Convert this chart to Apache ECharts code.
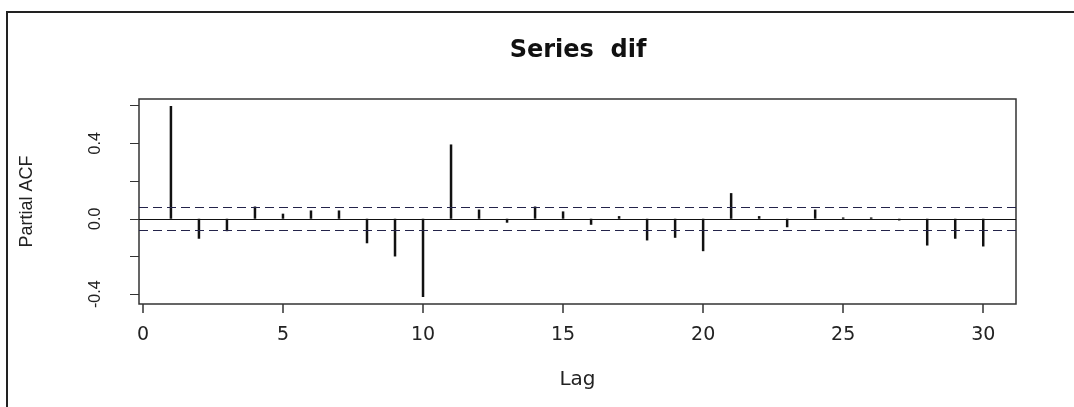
<!DOCTYPE html>
<html>
<head>
<meta charset="utf-8">
<script src="https://cdn.jsdelivr.net/npm/echarts@6/dist/echarts.min.js"></script>
<style>
html,body{margin:0;padding:0;background:#fff;}
#chart{width:1074px;height:407px;}
</style>
</head>
<body>
<div id="chart"></div>
<script>
// ---- data ----
const titleText = 'Series  dif';
const xName = 'Lag';
const yName = 'Partial ACF';
const lags = [1,2,3,4,5,6,7,8,9,10,11,12,13,14,15,16,17,18,19,20,21,22,23,24,25,26,27,28,29,30];
const pacfValues = [0.598,-0.106,-0.066,0.065,0.027,0.044,0.044,-0.130,-0.200,-0.415,
                    0.394,0.049,-0.021,0.065,0.039,-0.032,0.014,-0.115,-0.101,-0.172,
                    0.136,0.014,-0.045,0.049,0.007,0.007,-0.009,-0.142,-0.106,-0.147];
const ciBound = 0.0585;
const xTicks = [0,5,10,15,20,25,30];
const yTicks = [-0.4,-0.2,0,0.2,0.4,0.6];
const yLabels = [-0.4,0,0.4];

const chart = echarts.init(document.getElementById('chart'));
const barData = lags.map((l,i)=>[l,pacfValues[i]]);

chart.setOption({
  animation:false,
  backgroundColor:'#fff',
  title:{
    text:titleText,
    left:578, top:39, padding:0, textAlign:'center',
    textStyle:{fontFamily:'DejaVu Sans',fontWeight:'bold',fontSize:24,color:'#111'}
  },
  grid:{left:139,right:58,top:99,bottom:103,show:true,borderColor:'#333',borderWidth:1.5,containLabel:false},
  xAxis:{
    type:'value', min:-0.14, max:31.17,
    name:xName, nameLocation:'middle', nameGap:66,
    nameTextStyle:{fontFamily:'DejaVu Sans',fontSize:20,color:'#222'},
    axisLine:{show:false,onZero:false},
    splitLine:{show:false},
    axisTick:{show:true,length:9,customValues:xTicks,lineStyle:{color:'#333',width:1.5}},
    axisLabel:{customValues:xTicks,margin:22,fontFamily:'DejaVu Sans',fontSize:19,color:'#222'}
  },
  yAxis:{
    type:'value', min:-0.452, max:0.635,
    name:yName, nameLocation:'middle', nameGap:103,
    nameTextStyle:{fontFamily:'Liberation Sans',fontSize:18,color:'#222'},
    axisLine:{show:false,onZero:false},
    splitLine:{show:false},
    axisTick:{show:true,length:9,customValues:yTicks,lineStyle:{color:'#333',width:1}},
    axisLabel:{customValues:yLabels,rotate:90,margin:35,fontFamily:'Liberation Sans',fontSize:16,color:'#222',
      formatter:v=>Number(v).toFixed(1)}
  },
  graphic:[
    {type:'line',shape:{x1:6,y1:12,x2:1074,y2:12},style:{stroke:'#222',lineWidth:2}},
    {type:'line',shape:{x1:7,y1:11,x2:7,y2:407},style:{stroke:'#222',lineWidth:2}}
  ],
  series:[{
    type:'bar',
    data:barData,
    barWidth:2.5,
    itemStyle:{color:'#111'},
    markLine:{
      silent:true, symbol:'none', label:{show:false},
      data:[
        {yAxis:0,lineStyle:{color:'#111',type:'solid',width:1.2}},
        {yAxis:ciBound,lineStyle:{color:'#23234a',type:[9,5],width:1.2}},
        {yAxis:-ciBound,lineStyle:{color:'#23234a',type:[9,5],width:1.2}}
      ]
    }
  }]
});
</script>
</body>
</html>
